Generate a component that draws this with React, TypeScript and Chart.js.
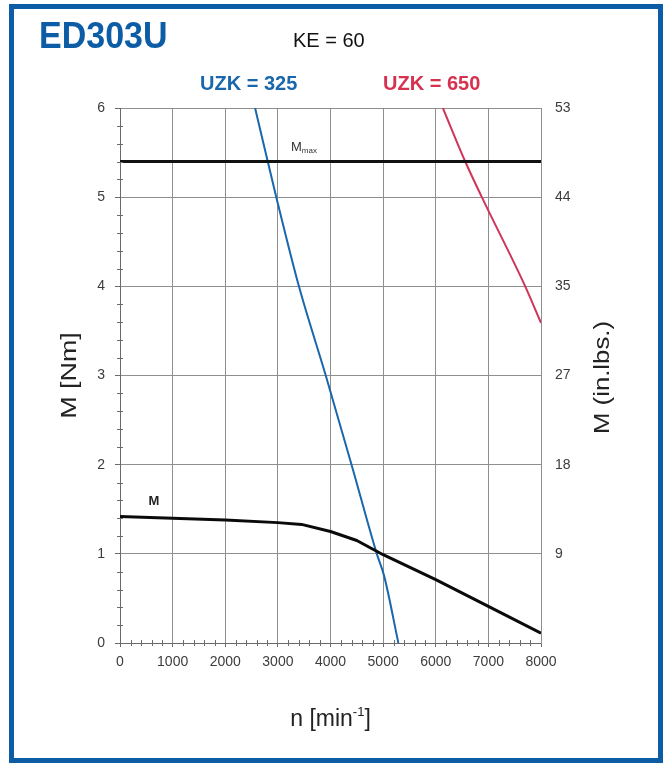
import React, { useEffect, useRef } from 'react';
import { Chart, registerables } from 'chart.js';

Chart.register(...registerables);

// ---- data ----
const speedUzk325 = [2567, 2970, 3400, 3910, 4400, 4880, 5020, 5290];
const torqueUzk325 = [6, 5, 4, 3, 2, 1, 0.75, 0];
const speedUzk650 = [6135, 6560, 6876, 7700, 8000];
const torqueUzk650 = [6, 5.4, 5, 4, 3.59];
const speedM = [0, 1000, 2000, 3000, 3450, 4000, 4500, 5000, 6000, 7000, 8000];
const torqueM = [1.42, 1.4, 1.38, 1.35, 1.33, 1.25, 1.15, 0.99, 0.71, 0.41, 0.11];
const speedMmax = [0, 8000];
const torqueMmax = [5.4, 5.4];
const xTicks = [0, 1000, 2000, 3000, 4000, 5000, 6000, 7000, 8000];
const yTicksNm = [0, 1, 2, 3, 4, 5, 6];
const yTicksInLbs = ['', '9', '18', '27', '35', '44', '53'];

const FONT = "'Liberation Sans', Arial, Helvetica, sans-serif";
const BLUE = '#1a67ab';
const RED = '#cf3557';
const GRID = '#8e8e8e';
const TICK_TXT = '#3c3c3c';

const pts = (xs: number[], ys: number[]) => xs.map((x, i) => ({ x, y: ys[i] }));

const decorPlugin = {
  id: 'decor',
  afterDraw(chart: any) {
    const { ctx, chartArea, scales } = chart;
    const xs = scales.x;
    const ys = scales.y;
    ctx.save();
    // minor ticks on left axis
    ctx.strokeStyle = '#6a6a6a';
    ctx.lineWidth = 1;
    for (let i = 0; i <= 30; i++) {
      if (i % 5 === 0) continue;
      const py = Math.round(ys.getPixelForValue(i / 5)) + 0.5;
      ctx.beginPath();
      ctx.moveTo(chartArea.left - 3, py);
      ctx.lineTo(chartArea.left + 3, py);
      ctx.stroke();
    }
    // minor ticks on bottom axis
    for (let i = 0; i <= 40; i++) {
      if (i % 5 === 0) continue;
      const px = Math.round(xs.getPixelForValue(i * 200)) + 0.5;
      ctx.beginPath();
      ctx.moveTo(px, chartArea.bottom - 3);
      ctx.lineTo(px, chartArea.bottom + 3);
      ctx.stroke();
    }
    // curve labels
    ctx.fillStyle = '#222';
    ctx.textBaseline = 'alphabetic';
    ctx.textAlign = 'left';
    ctx.font = `bold 13px ${FONT}`;
    ctx.fillText('M', xs.getPixelForValue(540), ys.getPixelForValue(1.55));
    const mx = xs.getPixelForValue(3250);
    const my = ys.getPixelForValue(5.52);
    ctx.fillStyle = '#333';
    ctx.font = `13px ${FONT}`;
    ctx.fillText('M', mx, my);
    const mw = ctx.measureText('M').width;
    ctx.font = `8px ${FONT}`;
    ctx.fillText('max', mx + mw, my + 2);

    // axis titles (slightly stretched along their length like the original)
    ctx.fillStyle = '#222';
    ctx.font = `22px ${FONT}`;
    ctx.textAlign = 'center';
    ctx.textBaseline = 'middle';
    ctx.save();
    ctx.translate(70, (chartArea.top + chartArea.bottom) / 2);
    ctx.rotate(-Math.PI / 2);
    ctx.scale(1.22, 1);
    ctx.fillText('M [Nm]', 0, 0);
    ctx.restore();
    ctx.save();
    ctx.translate(603, (chartArea.top + chartArea.bottom) / 2 + 2);
    ctx.rotate(-Math.PI / 2);
    ctx.scale(1.17, 1);
    ctx.fillText('M (in.lbs.)', 0, 0);
    ctx.restore();

    // bottom title with superscript
    ctx.textAlign = 'left';
    ctx.textBaseline = 'alphabetic';
    const part1 = 'n [min';
    const sup = '-1';
    const part3 = ']';
    ctx.font = `23px ${FONT}`;
    const w1 = ctx.measureText(part1).width;
    const w3 = ctx.measureText(part3).width;
    ctx.font = `13px ${FONT}`;
    const w2 = ctx.measureText(sup).width;
    const total = w1 + w2 + w3;
    const cx = (chartArea.left + chartArea.right) / 2;
    let bx = cx - total / 2;
    const by = 726;
    ctx.font = `23px ${FONT}`;
    ctx.fillText(part1, bx, by);
    bx += w1;
    ctx.font = `13px ${FONT}`;
    ctx.fillText(sup, bx, by - 10);
    bx += w2;
    ctx.font = `23px ${FONT}`;
    ctx.fillText(part3, bx, by);
    ctx.restore();
  },
};

export default function App() {
  const canvasRef = useRef<HTMLCanvasElement | null>(null);

  useEffect(() => {
    const canvas = canvasRef.current;
    if (!canvas) return;
    const chart = new Chart(canvas, {
      type: 'scatter',
      data: {
        datasets: [
          {
            label: 'Mmax',
            data: pts(speedMmax, torqueMmax),
            showLine: true,
            borderColor: '#111',
            borderWidth: 3,
            pointRadius: 0,
          },
          {
            label: 'M',
            data: pts(speedM, torqueM),
            showLine: true,
            borderColor: '#0a0a0a',
            borderWidth: 3,
            pointRadius: 0,
            borderJoinStyle: 'round',
          },
          {
            label: 'UZK = 325',
            data: pts(speedUzk325, torqueUzk325),
            showLine: true,
            borderColor: BLUE,
            borderWidth: 2,
            pointRadius: 0,
            cubicInterpolationMode: 'monotone',
          },
          {
            label: 'UZK = 650',
            data: pts(speedUzk650, torqueUzk650),
            showLine: true,
            borderColor: RED,
            borderWidth: 2,
            pointRadius: 0,
            cubicInterpolationMode: 'monotone',
          },
        ],
      },
      options: {
        responsive: false,
        animation: false,
        devicePixelRatio: 1,
        layout: { padding: { top: 108, left: 0, right: 0, bottom: 0 } },
        plugins: {
          legend: { display: false },
          tooltip: { enabled: false },
          title: { display: false },
        },
        scales: {
          x: {
            type: 'linear',
            position: 'bottom',
            min: 0,
            max: 8000,
            afterBuildTicks: (scale: any) => {
              scale.ticks = xTicks.map((v) => ({ value: v }));
            },
            afterFit: (scale: any) => {
              scale.height = 120;
            },
            grid: { color: GRID, lineWidth: 1, tickLength: 4, tickColor: '#6a6a6a' },
            border: { color: '#6a6a6a', width: 1 },
            ticks: {
              color: TICK_TXT,
              font: { family: FONT, size: 14 },
              padding: 7,
              maxRotation: 0,
              autoSkip: false,
              callback: (v: any) => String(v),
            },
          },
          y: {
            type: 'linear',
            position: 'left',
            min: 0,
            max: 6,
            afterBuildTicks: (scale: any) => {
              scale.ticks = yTicksNm.map((v) => ({ value: v }));
            },
            afterFit: (scale: any) => {
              scale.width = 120;
            },
            grid: { color: GRID, lineWidth: 1, tickLength: 5, tickColor: '#6a6a6a' },
            border: { color: '#6a6a6a', width: 1 },
            ticks: {
              color: TICK_TXT,
              font: { family: FONT, size: 14 },
              padding: 10,
              callback: (v: any) => String(v),
            },
          },
          y2: {
            type: 'linear',
            position: 'right',
            min: 0,
            max: 6,
            afterBuildTicks: (scale: any) => {
              scale.ticks = yTicksNm.map((v) => ({ value: v }));
            },
            afterFit: (scale: any) => {
              scale.width = 122;
            },
            grid: { drawOnChartArea: false, drawTicks: false, tickLength: 0 },
            border: { color: GRID, width: 1 },
            ticks: {
              color: TICK_TXT,
              font: { family: FONT, size: 14 },
              padding: 14,
              callback: (_v: any, i: number) => yTicksInLbs[i],
            },
          },
        },
      },
      plugins: [decorPlugin],
    } as any);
    return () => chart.destroy();
  }, []);

  return (
    <div style={{ position: 'absolute', left: 0, top: 0, width: 663, height: 763, background: '#fff', overflow: 'hidden' }}>
      <canvas ref={canvasRef} width={663} height={763} style={{ position: 'absolute', left: 0, top: 0, width: 663, height: 763 }} />
      <div
        style={{
          position: 'absolute',
          left: 9,
          top: 4,
          width: 654,
          height: 759,
          border: '5px solid #0c5da5',
          boxSizing: 'border-box',
          pointerEvents: 'none',
        }}
      />
      <div style={{ position: 'absolute', left: 39, top: 19, font: `bold 34px ${FONT}`, lineHeight: '34px', color: '#0c5da5', whiteSpace: 'nowrap', transform: 'scaleY(1.08)', transformOrigin: 'left bottom' }}>
        ED303U
      </div>
      <div style={{ position: 'absolute', left: 293, top: 30, font: `20px ${FONT}`, lineHeight: '20px', color: '#111', whiteSpace: 'nowrap' }}>
        KE = 60
      </div>
      <div style={{ position: 'absolute', left: 200, top: 73, font: `bold 20px ${FONT}`, lineHeight: '20px', color: BLUE, whiteSpace: 'nowrap' }}>
        UZK = 325
      </div>
      <div style={{ position: 'absolute', left: 383, top: 73, font: `bold 20px ${FONT}`, lineHeight: '20px', color: '#d6324f', whiteSpace: 'nowrap' }}>
        UZK = 650
      </div>
    </div>
  );
}
